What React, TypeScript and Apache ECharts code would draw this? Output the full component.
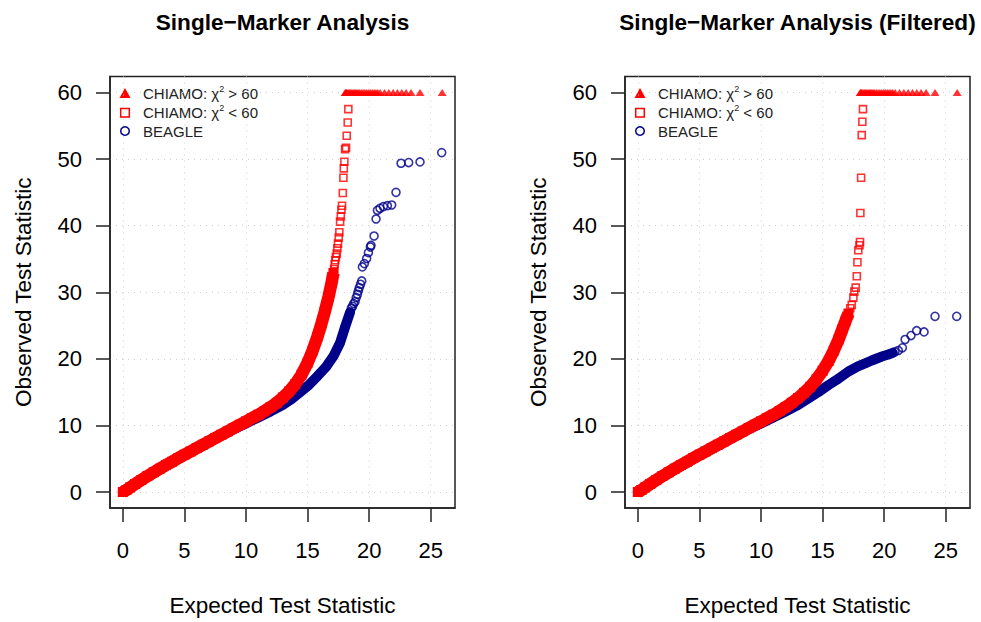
import React, { useEffect, useRef } from "react";
import * as echarts from "echarts";

const xTicks = [0, 5, 10, 15, 20, 25];
const yTicks = [0, 10, 20, 30, 40, 50, 60];
const titles = ["Single\u2212Marker Analysis", "Single\u2212Marker Analysis (Filtered)"];
const xName = "Expected Test Statistic";
const yName = "Observed Test Statistic";
const legendNames = ["CHIAMO: \u03c7\u00b2 > 60", "CHIAMO: \u03c7\u00b2 < 60", "BEAGLE"];

// ---- Left panel: Single-Marker Analysis ----
const leftChiamoBand = [
  [0, 0], [0.3, 0.3], [0.6, 0.7], [1, 1.2], [1.5, 1.8], [2, 2.4], [2.5, 2.95], [3, 3.5], [3.5, 4.05],
  [4, 4.55], [4.5, 5.1], [5, 5.6], [5.5, 6.1], [6, 6.6], [6.5, 7.1], [7, 7.6], [7.5, 8.1], [8, 8.6],
  [8.5, 9.1], [9, 9.6], [9.5, 10.1], [10, 10.6], [10.5, 11.1], [11, 11.6], [11.5, 12.15], [12, 12.75],
  [12.5, 13.4], [13, 14.2], [13.5, 15.1], [14, 16.2], [14.5, 17.6], [15, 19.4], [15.4, 21.2], [15.8, 23.3],
  [16.1, 25.1], [16.4, 27.1], [16.7, 29.3], [16.95, 31.4], [17.1, 32.9],
];
const leftChiamoSparse = [
  [17.15, 33.5], [17.2, 34.2], [17.25, 34.8], [17.3, 35.3],
  [17.37, 35.8], [17.42, 36.6], [17.47, 37.3], [17.53, 38.2], [17.58, 39.0], [17.64, 40.6], [17.7, 41.4],
  [17.75, 42.4], [17.8, 43.0], [17.86, 44.9], [17.91, 47.2], [17.94, 48.6], [17.99, 49.6], [18.05, 51.5],
  [18.12, 51.7], [18.18, 53.5], [18.26, 55.5], [18.31, 57.5],
];
const leftChiamoCapped = [
  18.05, 18.1, 18.15, 18.2, 18.3, 18.4, 18.5, 18.6, 18.7, 18.8, 18.9, 19.0, 19.1, 19.2, 19.35, 19.5,
  19.65, 19.8, 19.95, 20.1, 20.25, 20.4, 20.55, 20.7, 20.9, 21.25, 21.6, 21.95, 22.3, 22.65, 23.0,
  23.4, 24.13, 25.93,
];
const leftBeagleBand = [
  [0, 0], [1, 1.1], [2, 2.25], [3, 3.35], [4, 4.4], [5, 5.45], [6, 6.45], [7, 7.45], [8, 8.45], [9, 9.4],
  [10, 10.3], [11, 11.2], [12, 12.1], [13, 13.1], [13.7, 13.95], [14.4, 15.0], [15, 15.9], [15.8, 17.4],
  [16.5, 18.8], [17.1, 20.4], [17.64, 22.4], [18.05, 24.8], [18.45, 27.0],
];
const leftBeagleSparse = [
  [18.55, 27.6], [18.65, 27.9], [18.75, 28.3], [18.86, 28.6], [18.95, 29.2], [19.05, 29.7], [19.12, 30.2],
  [19.2, 30.7], [19.3, 31.2], [19.4, 31.7],
  [19.45, 33.8], [19.61, 34.3], [19.8, 35.07], [19.94, 35.96], [20.1, 36.8], [20.15, 37.05], [20.4, 38.45],
  [20.56, 41.0], [20.67, 42.3], [20.88, 42.6], [21.15, 42.86], [21.48, 43.0], [21.83, 43.1], [22.18, 45.0],
  [22.59, 49.37], [23.21, 49.48], [24.13, 49.57], [25.89, 50.97],
];

// ---- Right panel: Single-Marker Analysis (Filtered) ----
const rightChiamoBand = [
  [0, 0], [0.3, 0.3], [0.6, 0.7], [1, 1.2], [1.5, 1.8], [2, 2.4], [2.5, 2.95], [3, 3.5], [3.5, 4.05],
  [4, 4.55], [4.5, 5.1], [5, 5.6], [5.5, 6.1], [6, 6.6], [6.5, 7.1], [7, 7.6], [7.5, 8.1], [8, 8.6],
  [8.5, 9.1], [9, 9.6], [9.5, 10.1], [10, 10.6], [10.5, 11.1], [11, 11.6], [11.5, 12.15], [12, 12.75],
  [12.5, 13.4], [13, 14.1], [13.5, 14.9], [14, 15.8], [14.5, 16.9], [15, 18.2], [15.5, 19.7], [15.9, 21.2],
  [16.3, 22.9], [16.6, 24.4], [16.85, 25.6], [17.1, 26.8],
];
const rightChiamoSparse = [
  [17.25, 27.6], [17.37, 28.1], [17.5, 29.2], [17.58, 30.1], [17.69, 30.7], [17.78, 32.4], [17.83, 34.5],
  [17.9, 36.3], [18.0, 37.05], [18.04, 37.55], [18.07, 41.9], [18.13, 47.2], [18.18, 53.6], [18.23, 55.6],
  [18.28, 57.5],
];
const rightChiamoCapped = [
  18.05, 18.1, 18.15, 18.2, 18.3, 18.4, 18.5, 18.6, 18.7, 18.8, 18.9, 19.0, 19.1, 19.2, 19.35, 19.5,
  19.65, 19.8, 19.95, 20.1, 20.25, 20.4, 20.55, 20.7, 20.9, 21.25, 21.6, 21.95, 22.3, 22.65, 23.0,
  23.4, 24.13, 25.93,
];
const rightBeagleBand = [
  [0, 0], [1, 1.1], [2, 2.25], [3, 3.35], [4, 4.4], [5, 5.45], [6, 6.45], [7, 7.45], [8, 8.45], [9, 9.4],
  [10, 10.3], [11, 11.2], [12, 12.1], [13, 13.05], [13.8, 14.0], [14.66, 15.0], [15.47, 16.05],
  [16.28, 17.0], [17.1, 18.1], [17.91, 18.9], [18.5, 19.35], [18.99, 19.75], [19.4, 20.05], [19.8, 20.35],
  [20.34, 20.65], [20.7, 20.9],
];
const rightBeagleSparse = [
  [20.88, 21.06], [21.15, 21.25], [21.48, 21.65], [21.7, 22.9], [22.18, 23.5], [22.64, 24.23],
  [23.24, 24.04], [24.13, 26.38], [25.89, 26.38],
];

const CAP = 60;
const RED = "#ff0000";
const BLUE = "#00008b";
const FONT = "'Liberation Sans', Arial, Helvetica, sans-serif";

const panels = [
  { chiamoBand: leftChiamoBand, chiamoSparse: leftChiamoSparse, capped: leftChiamoCapped, beagleBand: leftBeagleBand, beagleSparse: leftBeagleSparse },
  { chiamoBand: rightChiamoBand, chiamoSparse: rightChiamoSparse, capped: rightChiamoCapped, beagleBand: rightBeagleBand, beagleSparse: rightBeagleSparse },
];

const GRID_LEFT = [110, 625];
const GRID_TOP = 76.5;
const GRID_W = 345;
const GRID_H = 434;

export default function App() {
  const ref = useRef<HTMLDivElement>(null);
  useEffect(() => {
    const chart = echarts.init(ref.current!, null, { renderer: "svg" });
    const grids: any[] = [];
    const xAxes: any[] = [];
    const yAxes: any[] = [];
    const series: any[] = [];
    const graphics: any[] = [];

    panels.forEach((p, i) => {
      grids.push({
        left: GRID_LEFT[i], top: GRID_TOP, width: GRID_W, height: GRID_H,
        show: true, borderColor: "#222", borderWidth: 1.5, backgroundColor: "transparent",
      });
      xAxes.push({
        type: "value", gridIndex: i, min: -1.04, max: 26.97,
        name: xName, nameLocation: "middle", nameGap: 86,
        nameTextStyle: { fontSize: 22.5, color: "#000", fontFamily: FONT },
        axisLine: { show: true, onZero: false, lineStyle: { color: "#222", width: 1.5 } },
        axisTick: { show: true, inside: false, length: 14, customValues: xTicks, lineStyle: { color: "#222", width: 1.5 } },
        axisLabel: { show: true, customValues: xTicks, margin: 31, fontSize: 22, color: "#000", fontFamily: FONT },
        splitLine: { show: true, lineStyle: { color: "#cfcfcf", type: [1, 5], width: 1 } },
      });
      yAxes.push({
        type: "value", gridIndex: i, min: -2.4, max: 62.4,
        name: yName, nameLocation: "middle", nameGap: 75,
        nameTextStyle: { fontSize: 22.5, color: "#000", fontFamily: FONT },
        axisLine: { show: true, onZero: false, lineStyle: { color: "#222", width: 1.5 } },
        axisTick: { show: true, inside: false, length: 14, customValues: yTicks, lineStyle: { color: "#222", width: 1.5 } },
        axisLabel: { show: true, customValues: yTicks, margin: 28, fontSize: 22, color: "#000", fontFamily: FONT },
        splitLine: { show: true, lineStyle: { color: "#cfcfcf", type: [1, 5], width: 1 } },
      });
      series.push({
        type: "line", xAxisIndex: i, yAxisIndex: i, data: p.beagleBand, z: 2,
        symbol: "circle", symbolSize: 9, showSymbol: true,
        itemStyle: { color: BLUE }, lineStyle: { color: BLUE, width: 10, cap: "round", join: "round" },
        silent: true,
      });
      series.push({
        type: "scatter", xAxisIndex: i, yAxisIndex: i, data: p.beagleSparse, z: 2,
        symbol: "circle", symbolSize: 8,
        itemStyle: { color: "rgba(0,0,0,0)", borderColor: BLUE, borderWidth: 1.6 },
        silent: true,
      });
      series.push({
        type: "line", xAxisIndex: i, yAxisIndex: i, data: p.chiamoBand, z: 3,
        symbol: "rect", symbolSize: 10, showSymbol: true,
        itemStyle: { color: RED }, lineStyle: { color: RED, width: 12.5, cap: "butt", join: "round" },
        silent: true,
      });
      series.push({
        type: "scatter", xAxisIndex: i, yAxisIndex: i, data: p.chiamoSparse, z: 3,
        symbol: "rect", symbolSize: 7,
        itemStyle: { color: "rgba(0,0,0,0)", borderColor: RED, borderWidth: 1.6 },
        silent: true,
      });
      series.push({
        type: "scatter", xAxisIndex: i, yAxisIndex: i, data: p.capped.map((x) => [x, CAP]), z: 3,
        symbol: "triangle", symbolSize: [9, 7],
        itemStyle: { color: RED },
        silent: true,
      });

      const ox = GRID_LEFT[i];
      graphics.push({
        type: "text", x: ox + GRID_W / 2, y: 22,
        style: { text: titles[i], fontSize: 22.6, fontWeight: "bold", fontFamily: FONT, fill: "#000", align: "center", verticalAlign: "middle" },
      });
      const lx = ox + 15;
      graphics.push({
        type: "polygon", shape: { points: [[lx - 5.5, 98], [lx + 5.5, 98], [lx, 88]] }, style: { fill: RED },
      });
      graphics.push({
        type: "rect", shape: { x: lx - 4.3, y: 108.4, width: 8.6, height: 8.6 }, style: { fill: "none", stroke: RED, lineWidth: 1.5 },
      });
      graphics.push({
        type: "circle", shape: { cx: lx, cy: 131, r: 4.3 }, style: { fill: "none", stroke: BLUE, lineWidth: 1.5 },
      });
      const rich = {
        t: { fontSize: 15, fontFamily: FONT, fill: "#222", lineHeight: 18 },
        s: { fontSize: 9, fontFamily: FONT, fill: "#222", verticalAlign: "top", lineHeight: 18 },
      };
      graphics.push({
        type: "text", x: ox + 33, y: 93,
        style: { text: "{t|CHIAMO: \u03c7}{s|2}{t| > 60}", rich, verticalAlign: "middle", align: "left" },
      });
      graphics.push({
        type: "text", x: ox + 33, y: 112.5,
        style: { text: "{t|CHIAMO: \u03c7}{s|2}{t| < 60}", rich, verticalAlign: "middle", align: "left" },
      });
      graphics.push({
        type: "text", x: ox + 33, y: 131,
        style: { text: legendNames[2], fontSize: 15, fontFamily: FONT, fill: "#222", verticalAlign: "middle", align: "left" },
      });
    });

    chart.setOption({
      animation: false,
      backgroundColor: "#fff",
      textStyle: { fontFamily: FONT },
      grid: grids,
      xAxis: xAxes,
      yAxis: yAxes,
      series,
      graphic: graphics,
    });
    return () => chart.dispose();
  }, []);
  return (
    <div
      ref={ref}
      style={{ position: "fixed", left: 0, top: 0, width: 981, height: 622, background: "#fff" }}
    />
  );
}
